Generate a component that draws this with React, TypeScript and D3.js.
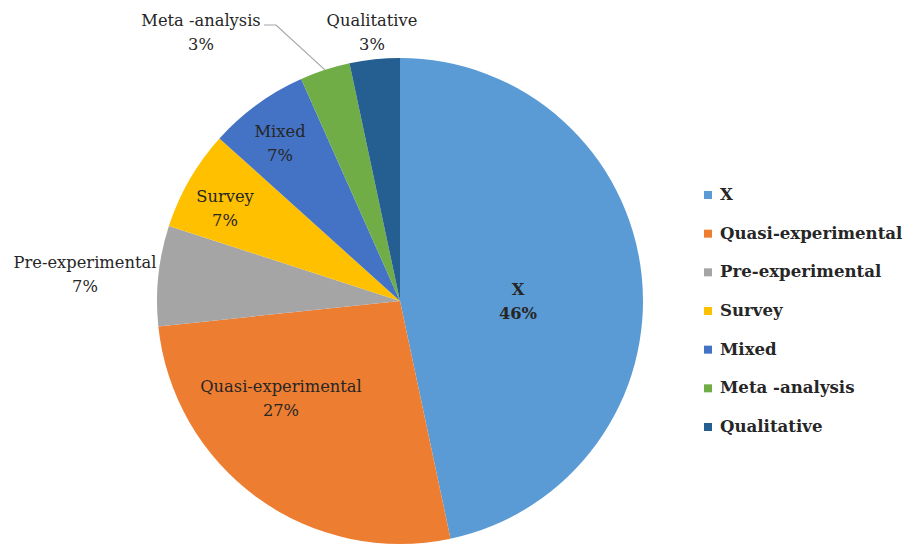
import React from "react";
import * as d3 from "d3";

const categories = ["X", "Quasi-experimental", "Pre-experimental", "Survey", "Mixed", "Meta -analysis", "Qualitative"];
const counts = [14, 8, 2, 2, 2, 1, 1];
const percentLabels = ["46%", "27%", "7%", "7%", "7%", "3%", "3%"];
const colors = ["#5B9BD5", "#ED7D31", "#A5A5A5", "#FFC000", "#4472C4", "#70AD47", "#255E91"];

// label placement (chart layout, not data)
const labelPos: [number, number][] = [
  [518, 295],
  [281, 392],
  [85, 268],
  [225, 202],
  [280, 137],
  [201, 26],
  [372, 26],
];

const W = 904, H = 548;
const cx = 400, cy = 301, R = 243;
const FONT = "'DejaVu Serif', serif";

export default function App() {
  const pie = d3.pie<number>().sort(null).startAngle(0).endAngle(2 * Math.PI);
  const arcs = pie(counts);
  const arc = d3.arc<d3.PieArcDatum<number>>().innerRadius(0).outerRadius(R);
  const legendY = d3.scaleLinear().domain([0, categories.length - 1]).range([200, 432]);
  const meta = arcs[5];
  const metaMid = (meta.startAngle + meta.endAngle) / 2;
  const edge: [number, number] = [cx + Math.sin(metaMid) * R, cy - Math.cos(metaMid) * R];
  return (
    <svg width={W} height={H} style={{ position: "absolute", left: 0, top: 0, background: "#fff" }}>
      <defs>
        {colors.map((c, i) => (
          <radialGradient key={i} id={`g${i}`} cx={cx} cy={cy} r={R} gradientUnits="userSpaceOnUse">
            <stop offset="0%" stopColor={d3.color(c)!.brighter(0.2).formatHex()} />
            <stop offset="100%" stopColor={d3.color(c)!.formatHex()} />
          </radialGradient>
        ))}
      </defs>
      <g transform={`translate(${cx},${cy})`}>
        {arcs.map((a, i) => (
          <path key={i} d={arc(a) || ""} fill={`url(#g${i})`} />
        ))}
      </g>
      <polyline
        points={`${labelPos[5][0] + 63},${labelPos[5][1] - 1} ${labelPos[5][0] + 75},${labelPos[5][1] - 1} ${edge[0]},${edge[1]}`}
        fill="none"
        stroke="#A6A6A6"
        strokeWidth={1.2}
      />
      <g style={{ fontFamily: FONT, fontSize: "16.3px" }} fill="#262626" textAnchor="middle">
        {categories.map((c, i) => (
          <g key={i}>
            <text x={labelPos[i][0]} y={labelPos[i][1]} fontWeight={i === 0 ? "bold" : "normal"}>{c}</text>
            <text x={labelPos[i][0]} y={labelPos[i][1] + 24} fontWeight={i === 0 ? "bold" : "normal"}>{percentLabels[i]}</text>
          </g>
        ))}
      </g>
      <g style={{ fontFamily: FONT, fontSize: "16.6px", fontWeight: "bold" }} fill="#262626">
        {categories.map((c, i) => (
          <g key={i} transform={`translate(704,${legendY(i)})`}>
            <rect x={0} y={-9} width={8} height={8} fill={colors[i]} />
            <text x={16} y={0}>{c}</text>
          </g>
        ))}
      </g>
    </svg>
  );
}
